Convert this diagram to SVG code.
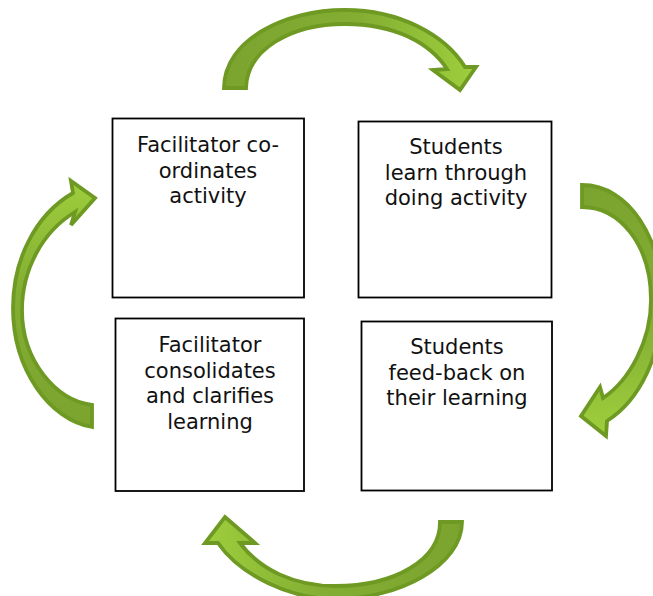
<svg xmlns="http://www.w3.org/2000/svg" width="653" height="596" viewBox="0 0 653 596">
  <style>
    .box { fill: #ffffff; stroke: #000000; stroke-width: 1.8; }
    .label { font-family: "DejaVu Sans", Verdana, sans-serif; font-size: 21px; fill: #111111; text-anchor: middle; }
    .arrow { stroke: #6e9a23; stroke-width: 3.8; stroke-linejoin: miter; }
  </style>
  <defs>
    <linearGradient id="gTop" x1="224" y1="0" x2="470" y2="0" gradientUnits="userSpaceOnUse">
      <stop offset="0" stop-color="#7ba42f"/>
      <stop offset="0.55" stop-color="#83ae33"/>
      <stop offset="1" stop-color="#9dcd3c"/>
    </linearGradient>
    <linearGradient id="gRight" x1="0" y1="185" x2="0" y2="430" gradientUnits="userSpaceOnUse">
      <stop offset="0" stop-color="#7ba42f"/>
      <stop offset="0.55" stop-color="#83ae33"/>
      <stop offset="1" stop-color="#9dcd3c"/>
    </linearGradient>
    <linearGradient id="gBottom" x1="462" y1="0" x2="208" y2="0" gradientUnits="userSpaceOnUse">
      <stop offset="0" stop-color="#7ba42f"/>
      <stop offset="0.55" stop-color="#83ae33"/>
      <stop offset="1" stop-color="#9dcd3c"/>
    </linearGradient>
    <linearGradient id="gLeft" x1="0" y1="427" x2="0" y2="183" gradientUnits="userSpaceOnUse">
      <stop offset="0" stop-color="#7ba42f"/>
      <stop offset="0.55" stop-color="#83ae33"/>
      <stop offset="1" stop-color="#9dcd3c"/>
    </linearGradient>
  </defs>

  <!-- curved arrows linking the four stages clockwise -->
  <g id="connectors">
    <path class="arrow" fill="url(#gTop)" d="M224,88 C224,40 285,10 345,10 C400,10 445,35 465,67 L476,67 L460,90 L433,70 L447,69 C430,43 395,24 345,24 C290,24 247,50 246,88 Z"/>
    <path class="arrow" fill="url(#gRight)" d="M582,185 C630,185 662,240 662,300 C662,355 640,400 607,421 L606,436 L581,416 L600,387 L603,398 C630,380 651,340 651,300 C651,245 620,207 582,207 Z"/>
    <path class="arrow" fill="url(#gBottom)" d="M462,522 C462,565 400,599 335,599 C290,599 240,575 218,543 L205,543 L225,517 L255,543 L240,543 C260,570 295,586 335,586 C395,586 440,560 440,522 Z"/>
    <path class="arrow" fill="url(#gLeft)" d="M92,427 C50,420 13,370 13,308 C13,260 35,215 73,193 L71,181 L95,198 L71,225 L75,212 C42,232 22,270 22,310 C22,360 55,400 92,405 Z"/>
  </g>

  <g id="node-coordinates">
    <rect class="box" x="112.5" y="118.5" width="191.5" height="179"/>
    <text class="label" x="208" y="152">Facilitator co-</text>
    <text class="label" x="208" y="177.5">ordinates</text>
    <text class="label" x="208" y="203">activity</text>
  </g>

  <g id="node-learn">
    <rect class="box" x="358.5" y="121.5" width="193" height="176"/>
    <text class="label" x="456" y="154">Students</text>
    <text class="label" x="456" y="179.5">learn through</text>
    <text class="label" x="456" y="205">doing activity</text>
  </g>

  <g id="node-feedback">
    <rect class="box" x="361.5" y="321.5" width="190.5" height="169"/>
    <text class="label" x="457" y="354">Students</text>
    <text class="label" x="457" y="379.5">feed-back on</text>
    <text class="label" x="457" y="405">their learning</text>
  </g>

  <g id="node-consolidates">
    <rect class="box" x="115.5" y="318.5" width="188.5" height="172.5"/>
    <text class="label" x="210" y="352">Facilitator</text>
    <text class="label" x="210" y="377.5">consolidates</text>
    <text class="label" x="210" y="403">and clarifies</text>
    <text class="label" x="210" y="428.5">learning</text>
  </g>
</svg>
